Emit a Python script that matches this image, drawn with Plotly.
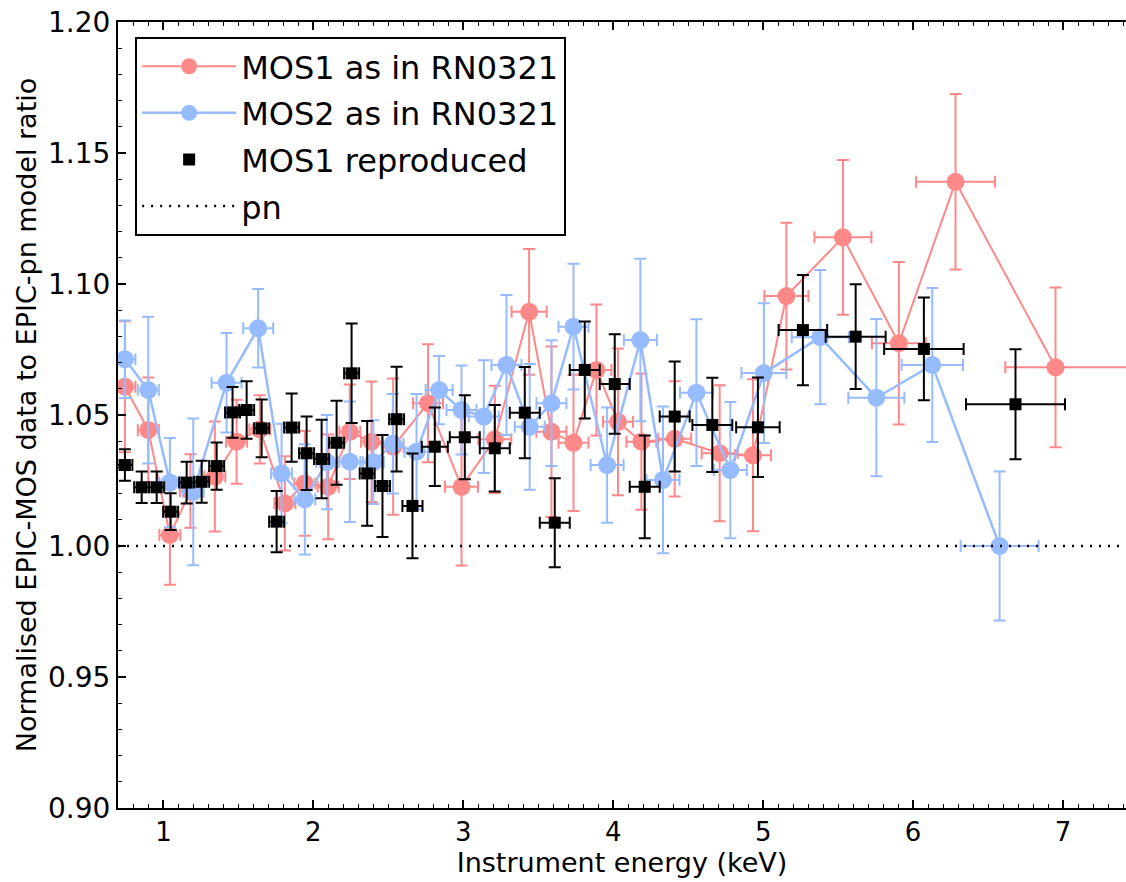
import plotly.graph_objects as go

# ---- data ----
mos1_x = [0.743, 0.899, 1.043, 1.18, 1.343, 1.488, 1.643, 1.81, 1.943, 2.099, 2.243, 2.388, 2.532,
          2.765, 2.988, 3.21, 3.439, 3.588, 3.735, 3.888, 4.032, 4.188, 4.41, 4.71, 4.932, 5.155,
          5.532, 5.905, 6.283, 6.95]
mos1_y = [1.0608, 1.0443, 1.0042, 1.021, 1.0265, 1.0398, 1.0445, 1.0163, 1.0239, 1.0226, 1.0436,
          1.0398, 1.0379, 1.0545, 1.0226, 1.0407, 1.0894, 1.0436, 1.0394, 1.0672, 1.0474, 1.0398,
          1.0409, 1.0354, 1.0346, 1.0954, 1.1178, 1.0774, 1.139, 1.0682]
mos1_yerr = [0.025, 0.02, 0.019, 0.014, 0.021, 0.016, 0.013, 0.018, 0.02, 0.02, 0.018, 0.023, 0.026,
             0.0225, 0.03, 0.0205, 0.024, 0.0325, 0.026, 0.025, 0.028, 0.026, 0.022, 0.026, 0.029,
             0.028, 0.0295, 0.031, 0.0335, 0.0305]
mos1_xerr_minus = [0.07, 0.07, 0.07, 0.07, 0.07, 0.07, 0.07, 0.07, 0.07, 0.07, 0.07, 0.07, 0.07,
                   0.1, 0.11, 0.11, 0.117, 0.1, 0.1, 0.1, 0.1, 0.1, 0.11, 0.12, 0.12, 0.147,
                   0.19, 0.18, 0.263, 0.335]
mos1_xerr_plus = [0.07, 0.07, 0.07, 0.07, 0.07, 0.07, 0.07, 0.07, 0.07, 0.07, 0.07, 0.07, 0.07,
                  0.1, 0.11, 0.11, 0.117, 0.1, 0.1, 0.1, 0.1, 0.1, 0.11, 0.12, 0.12, 0.147,
                  0.19, 0.18, 0.263, 0.6]

mos2_x = [0.743, 0.899, 1.043, 1.199, 1.421, 1.632, 1.788, 1.943, 2.09, 2.243, 2.40, 2.53, 2.688,
          2.839, 2.988, 3.137, 3.288, 3.443, 3.588, 3.735, 3.959, 4.181, 4.332, 4.555, 4.781,
          5.005, 5.381, 5.755, 6.128, 6.577]
mos2_y = [1.0713, 1.0595, 1.0242, 1.0207, 1.0623, 1.0831, 1.0277, 1.0178, 1.032, 1.0322, 1.032,
          1.039, 1.036, 1.0595, 1.0519, 1.0494, 1.0691, 1.0455, 1.0545, 1.0837, 1.0309, 1.0786,
          1.0252, 1.0585, 1.029, 1.066, 1.0797, 1.0566, 1.0691, 1.000]
mos2_yerr = [0.0148, 0.028, 0.017, 0.028, 0.019, 0.015, 0.019, 0.021, 0.018, 0.023, 0.016, 0.019,
             0.022, 0.013, 0.017, 0.0215, 0.0267, 0.024, 0.024, 0.024, 0.022, 0.031, 0.028, 0.028,
             0.026, 0.0267, 0.0256, 0.03, 0.0294, 0.0284]
mos2_xerr = [0.07, 0.07, 0.07, 0.07, 0.1, 0.1, 0.07, 0.07, 0.07, 0.07, 0.07, 0.07, 0.08, 0.09,
             0.1, 0.1, 0.1, 0.1, 0.1, 0.1, 0.11, 0.11, 0.11, 0.11, 0.11, 0.15, 0.19, 0.187,
             0.205, 0.26]

rep_x = [0.743, 0.855, 0.955, 1.048, 1.155, 1.255, 1.355, 1.461, 1.555, 1.655, 1.755, 1.855, 1.955,
         2.055, 2.155, 2.255, 2.359, 2.461, 2.555, 2.661, 2.81, 3.01, 3.21, 3.41, 3.61, 3.81, 4.01,
         4.21, 4.41, 4.661, 4.965, 5.265, 5.617, 6.072, 6.683]
rep_y = [1.0309, 1.0224, 1.0224, 1.0131, 1.0242, 1.0245, 1.0305, 1.051, 1.0519, 1.0449, 1.0093,
         1.0452, 1.0354, 1.0332, 1.0394, 1.0659, 1.0277, 1.0229, 1.0484, 1.0153, 1.0379, 1.0415,
         1.0373, 1.0509, 1.0089, 1.0672, 1.0618, 1.0226, 1.0494, 1.0462, 1.0453, 1.0824, 1.0799,
         1.0752, 1.0541]
rep_yerr = [0.006, 0.006, 0.006, 0.007, 0.008, 0.008, 0.009, 0.0097, 0.011, 0.011, 0.0117, 0.013,
            0.014, 0.015, 0.016, 0.019, 0.02, 0.0195, 0.02, 0.02, 0.015, 0.016, 0.0165, 0.0174,
            0.017, 0.0185, 0.019, 0.0196, 0.021, 0.018, 0.019, 0.021, 0.02, 0.0196, 0.021]
rep_xerr = [0.05, 0.05, 0.05, 0.05, 0.05, 0.05, 0.05, 0.05, 0.05, 0.05, 0.05, 0.05, 0.05, 0.05,
            0.05, 0.05, 0.05, 0.05, 0.05, 0.067, 0.087, 0.1, 0.1, 0.1, 0.1, 0.1, 0.1, 0.1, 0.1,
            0.133, 0.145, 0.162, 0.2, 0.265, 0.33]

x_range = [0.697, 7.42]
y_range = [0.90, 1.20]
pn_level = 1.0

RED = "rgb(255,136,136)"
BLUE = "rgb(150,187,255)"
FONT = "DejaVu Sans, Verdana, sans-serif"

fig = go.Figure()

fig.add_trace(go.Scatter(
    x=mos1_x, y=mos1_y, mode="lines+markers", name="MOS1 as in RN0321",
    legendgroup="a",
    line=dict(color=RED, width=2),
    marker=dict(color=RED, size=18, symbol="circle"),
    error_y=dict(type="data", array=mos1_yerr, color=RED, thickness=2, width=6),
    error_x=dict(type="data", array=mos1_xerr_plus, arrayminus=mos1_xerr_minus,
                 color=RED, thickness=2, width=6),
))
fig.add_trace(go.Scatter(
    x=mos2_x, y=mos2_y, mode="lines+markers", name="MOS2 as in RN0321",
    legendgroup="b",
    line=dict(color=BLUE, width=2.5),
    marker=dict(color=BLUE, size=18, symbol="circle"),
    error_y=dict(type="data", array=mos2_yerr, color=BLUE, thickness=2, width=6),
    error_x=dict(type="data", array=mos2_xerr, color=BLUE, thickness=2, width=6),
))
fig.add_trace(go.Scatter(
    x=rep_x, y=rep_y, mode="markers", name="MOS1 reproduced",
    legendgroup="c",
    marker=dict(color="black", size=12, symbol="square"),
    error_y=dict(type="data", array=rep_yerr, color="black", thickness=2, width=6),
    error_x=dict(type="data", array=rep_xerr, color="black", thickness=2, width=6),
))
fig.add_trace(go.Scatter(
    x=x_range, y=[pn_level, pn_level], mode="lines", name="pn",
    legendgroup="d",
    line=dict(color="black", width=2.5, dash="2px,7px"),
))

axis_common = dict(
    showline=True, linecolor="black", linewidth=2,
    ticks="inside", tickcolor="black", tickwidth=1.5, ticklen=8,
    showgrid=False, zeroline=False,
)

fig.update_xaxes(
    range=x_range, dtick=1, tick0=0, mirror="ticks",
    tickfont=dict(family=FONT, size=26, color="black"),
    minor=dict(dtick=0.1, ticks="inside", ticklen=4, tickcolor="black", tickwidth=1),
    title=dict(text="Instrument energy (keV)", font=dict(family=FONT, size=27, color="black"),
               standoff=6),
    **axis_common,
)
fig.update_yaxes(
    range=y_range, dtick=0.05, tick0=0, tickformat=".2f", mirror=False,
    tickfont=dict(family=FONT, size=28, color="black"),
    minor=dict(dtick=0.01, ticks="inside", ticklen=4, tickcolor="black", tickwidth=1),
    title=dict(text="Normalised EPIC-MOS data to EPIC-pn model ratio",
               font=dict(family=FONT, size=27, color="black"), standoff=4),
    **axis_common,
)

fig.update_layout(
    width=1126, height=882,
    margin=dict(l=118, r=0, t=22, b=74),
    paper_bgcolor="white", plot_bgcolor="white",
    showlegend=True,
    legend=dict(
        x=0.017, y=0.981, xanchor="left", yanchor="top",
        bgcolor="white", bordercolor="black", borderwidth=2,
        font=dict(family=FONT, size=32, color="black"),
        traceorder="grouped", tracegroupgap=2, itemwidth=94,
    ),
)

fig.write_html("out.html")
